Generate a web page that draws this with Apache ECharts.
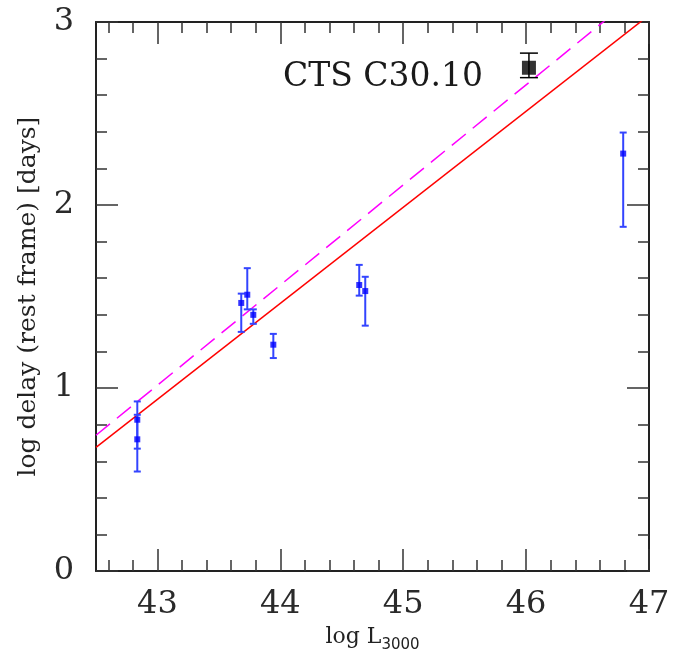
<!DOCTYPE html>
<html>
<head>
<meta charset="utf-8">
<script src="https://cdn.jsdelivr.net/npm/echarts@6/dist/echarts.min.js"></script>
<style>
html,body{margin:0;padding:0;background:#fff;}
#chart{width:696px;height:658px;}
</style>
</head>
<body>
<div id="chart"></div>
<script>
// ---- data ----
const logL      = [42.836, 42.836, 43.682, 43.731, 43.780, 43.943, 44.642, 44.691, 46.790];
const logDelay  = [0.827, 0.720, 1.465, 1.510, 1.400, 1.237, 1.563, 1.530, 2.281];
const delayHi   = [0.927, 0.854, 1.516, 1.655, 1.430, 1.296, 1.673, 1.608, 2.396];
const delayLo   = [0.669, 0.544, 1.307, 1.430, 1.351, 1.164, 1.505, 1.341, 1.881];

const ctsL = [46.023];
const ctsDelay = [2.750];
const ctsHi = [2.830];
const ctsLo = [2.696];

const fitRedX = [42.5, 47.0];
const fitRedY = [0.676, 3.037];
const fitMagX = [42.5, 47.0];
const fitMagY = [0.742, 3.204];

const xMajorTicks = [43, 44, 45, 46, 47];
const xMinorTicks = [42.6, 42.8, 43.2, 43.4, 43.6, 43.8, 44.2, 44.4, 44.6, 44.8, 45.2, 45.4, 45.6, 45.8, 46.2, 46.4, 46.6, 46.8];
const yMajorTicks = [0, 1, 2, 3];
const yMinorTicks = [0.2, 0.4, 0.6, 0.8, 1.2, 1.4, 1.6, 1.8, 2.2, 2.4, 2.6, 2.8];

const label = 'CTS C30.10';
const xTitle = 'log L';
const xTitleSub = '3000';
const yTitle = 'log delay (rest frame) [days]';

// ---- chart ----
const FONT = 'DejaVu Serif';
const AX = '#222';
const X_MIN = 42.5, X_MAX = 47, Y_MIN = 0, Y_MAX = 3;

function mkX(pos, ticks, len, showLine, extra) {
  return Object.assign({
    type: 'value', position: pos, min: X_MIN, max: X_MAX,
    axisLine: { show: showLine, onZero: false, lineStyle: { color: AX, width: 2 } },
    axisTick: { show: true, inside: true, length: len, customValues: ticks, lineStyle: { color: '#333', width: 1.5 } },
    axisLabel: { show: false },
    splitLine: { show: false }
  }, extra || {});
}
function mkY(pos, ticks, len, showLine, extra) {
  return Object.assign({
    type: 'value', position: pos, min: Y_MIN, max: Y_MAX,
    axisLine: { show: showLine, onZero: false, lineStyle: { color: AX, width: 2 } },
    axisTick: { show: true, inside: true, length: len, customValues: ticks, lineStyle: { color: '#333', width: 1.5 } },
    axisLabel: { show: false },
    splitLine: { show: false }
  }, extra || {});
}

const chart = echarts.init(document.getElementById('chart'), null, { renderer: 'canvas' });

function errRender(color, capHalf, lw) {
  return function (params, api) {
    const x = api.value(0), lo = api.value(2), hi = api.value(3);
    const pHi = api.coord([x, hi]), pLo = api.coord([x, lo]);
    const st = { stroke: color, lineWidth: lw };
    return {
      type: 'group',
      children: [
        { type: 'line', shape: { x1: pHi[0], y1: pHi[1], x2: pLo[0], y2: pLo[1] }, style: st },
        { type: 'line', shape: { x1: pHi[0] - capHalf, y1: pHi[1], x2: pHi[0] + capHalf, y2: pHi[1] }, style: st },
        { type: 'line', shape: { x1: pLo[0] - capHalf, y1: pLo[1], x2: pLo[0] + capHalf, y2: pLo[1] }, style: st }
      ]
    };
  };
}

const errData = logL.map((x, i) => [x, logDelay[i], delayLo[i], delayHi[i]]);
const ctsErrData = ctsL.map((x, i) => [x, ctsDelay[i], ctsLo[i], ctsHi[i]]);

chart.setOption({
  backgroundColor: '#fff',
  animation: false,
  grid: { left: 96, right: 47, top: 22, bottom: 84 },
  graphic: [
    { type: 'text', x: 383, y: 77,
      style: { text: label, font: '33px "DejaVu Serif"', fill: '#1a1a1a', textAlign: 'center', textVerticalAlign: 'middle' } }
  ],
  xAxis: [
    mkX('bottom', xMajorTicks, 22, true, {
      axisLabel: { show: true, customValues: xMajorTicks, fontFamily: FONT, fontSize: 32, color: '#2a2a2a', margin: 18 },
      name: '{m|' + xTitle + '}{s|' + xTitleSub + '}', nameLocation: 'middle', nameGap: 52,
      nameTextStyle: {
        rich: {
          m: { fontFamily: FONT, fontSize: 22, color: '#222', verticalAlign: 'top', lineHeight: 26 },
          s: { fontFamily: 'DejaVu Sans', fontSize: 15, color: '#222', verticalAlign: 'top', lineHeight: 18, padding: [12, 0, 0, 0] }
        }
      }
    }),
    mkX('bottom', xMinorTicks, 11, false),
    mkX('top', xMajorTicks, 22, true),
    mkX('top', xMinorTicks, 11, false)
  ],
  yAxis: [
    mkY('left', yMajorTicks, 22, true, {
      axisLabel: { show: true, customValues: yMajorTicks, fontFamily: FONT, fontSize: 32, color: '#2a2a2a', margin: 22 },
      name: yTitle, nameLocation: 'middle', nameGap: 55, nameRotate: 90,
      nameTextStyle: { fontFamily: FONT, fontSize: 25, color: '#222' }
    }),
    mkY('left', yMinorTicks, 11, false),
    mkY('right', yMajorTicks, 22, true),
    mkY('right', yMinorTicks, 11, false)
  ],
  series: [
    {
      type: 'line', data: fitRedX.map((x, i) => [x, fitRedY[i]]), showSymbol: false, symbol: 'none',
      lineStyle: { color: '#ff0000', width: 1.5 }, clip: true, z: 2
    },
    {
      type: 'line', data: fitMagX.map((x, i) => [x, fitMagY[i]]), showSymbol: false, symbol: 'none',
      lineStyle: { color: '#ff00ff', width: 1.5, type: [18, 9] }, clip: true, z: 2
    },
    {
      type: 'custom', renderItem: errRender('#3344ff', 3.5, 2), data: errData,
      encode: { x: 0, y: [1, 2, 3] }, clip: true, z: 3
    },
    {
      type: 'scatter', data: logL.map((x, i) => [x, logDelay[i]]), symbol: 'rect', symbolSize: 6,
      itemStyle: { color: '#0000ff' }, z: 4
    },
    {
      type: 'custom', renderItem: errRender('#000', 9, 1.5), data: ctsErrData,
      encode: { x: 0, y: [1, 2, 3] }, clip: true, z: 3
    },
    {
      type: 'scatter', data: ctsL.map((x, i) => [x, ctsDelay[i]]), symbol: 'rect', symbolSize: 14,
      itemStyle: { color: '#000' }, z: 4
    }
  ]
});
</script>
</body>
</html>
